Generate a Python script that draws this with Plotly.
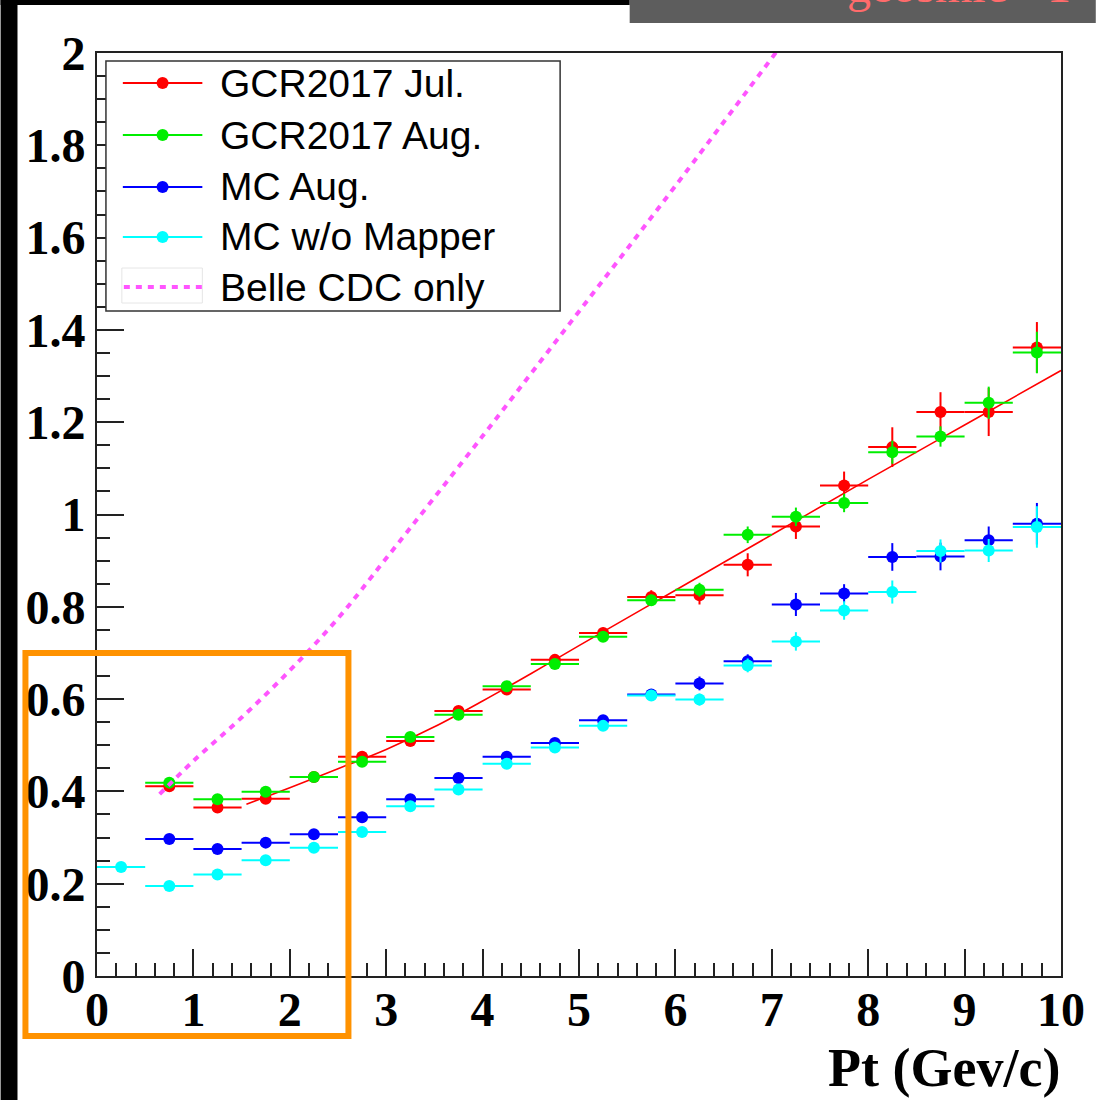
import plotly.graph_objects as go

# ---------------- data ----------------
bins_jul = [0.75, 1.25, 1.75, 2.25, 2.75, 3.25, 3.75, 4.25, 4.75, 5.25,
            5.75, 6.25, 6.75, 7.25, 7.75, 8.25, 8.75, 9.25, 9.75]
bins_cyan = [0.25] + bins_jul

gcr_jul = [0.411, 0.365, 0.384, 0.431, 0.475, 0.509, 0.574, 0.621, 0.685, 0.743,
           0.821, 0.825, 0.891, 0.974, 1.063, 1.146, 1.222, 1.222, 1.362]
gcr_jul_err = [0.005, 0.005, 0.006, 0.006, 0.008, 0.008, 0.010, 0.010, 0.010, 0.012,
               0.015, 0.020, 0.025, 0.027, 0.030, 0.043, 0.043, 0.052, 0.055]

gcr_aug = [0.419, 0.383, 0.399, 0.431, 0.464, 0.518, 0.566, 0.628, 0.676, 0.735,
           0.814, 0.837, 0.956, 0.995, 1.025, 1.135, 1.169, 1.242, 1.351]
gcr_aug_err = [0.005, 0.005, 0.006, 0.006, 0.007, 0.008, 0.009, 0.010, 0.010, 0.011,
               0.012, 0.015, 0.018, 0.020, 0.020, 0.025, 0.022, 0.035, 0.045]

mc_aug = [0.297, 0.275, 0.289, 0.307, 0.344, 0.383, 0.429, 0.475, 0.505, 0.554,
          0.610, 0.634, 0.682, 0.805, 0.829, 0.908, 0.909, 0.944, 0.980]
mc_aug_err = [0.004, 0.004, 0.005, 0.005, 0.006, 0.007, 0.008, 0.009, 0.010, 0.011,
              0.012, 0.015, 0.015, 0.025, 0.020, 0.030, 0.030, 0.030, 0.045]

mc_nomap = [0.236, 0.195, 0.220, 0.251, 0.278, 0.312, 0.368, 0.404, 0.460, 0.495,
            0.542, 0.608, 0.599, 0.673, 0.725, 0.792, 0.832, 0.921, 0.922, 0.973]
mc_nomap_err = [0.004, 0.004, 0.004, 0.005, 0.005, 0.006, 0.007, 0.008, 0.009, 0.010,
                0.011, 0.012, 0.013, 0.015, 0.020, 0.020, 0.025, 0.025, 0.025, 0.045]

fit_x = [1.55, 2.0, 2.5, 3.0, 3.5, 4.0, 4.5, 5.0, 6.0, 7.0, 8.0, 9.0, 10.0]
fit_y = [0.372, 0.408, 0.449, 0.491, 0.540, 0.596, 0.655, 0.716, 0.836, 0.956, 1.076, 1.194, 1.312]

belle_x = [0.65, 1.0, 1.5, 2.0, 2.5, 3.0, 4.0, 5.0, 6.0, 7.05]
belle_y = [0.394, 0.466, 0.560, 0.662, 0.775, 0.905, 1.170, 1.440, 1.712, 2.003]

x_ticks = list(range(0, 11))
y_ticks = [0, 0.2, 0.4, 0.6, 0.8, 1.0, 1.2, 1.4, 1.6, 1.8, 2.0]

legend_labels = ["GCR2017 Jul.", "GCR2017 Aug.", "MC Aug.", "MC w/o Mapper", "Belle CDC only"]
x_title = "Pt (Gev/c)"
banner_text = "geosmic - 1"

# ---------------- style ----------------
RED, GREEN, BLUE, CYAN, MAG = "#ff0000", "#00ee00", "#0000ff", "#00ffff", "#ff55ff"
W, H = 1097, 1100
ML, MR, MT, MB = 97, 30, 53, 124
PW, PH = W - ML - MR, H - MT - MB


def X(px):
    return (px - ML) / PW


def Y(py):
    return (H - MB - py) / PH


SERIF = "Liberation Serif, Times New Roman, serif"
SANS = "Liberation Sans, Arial, Helvetica, sans-serif"

fig = go.Figure()


def add_series(x, y, err, color):
    fig.add_trace(go.Scatter(
        x=x, y=y, mode="markers", showlegend=False,
        marker=dict(color=color, size=12, line=dict(width=0)),
        error_x=dict(type="constant", value=0.25, width=0, thickness=2, color=color),
        error_y=dict(type="data", array=err, width=0, thickness=2, color=color),
    ))


add_series(bins_jul, gcr_jul, gcr_jul_err, RED)
fig.add_trace(go.Scatter(x=fit_x, y=fit_y, mode="lines", showlegend=False,
                         line=dict(color=RED, width=1.6, shape="spline")))
add_series(bins_jul, gcr_aug, gcr_aug_err, GREEN)
add_series(bins_jul, mc_aug, mc_aug_err, BLUE)
add_series(bins_cyan, mc_nomap, mc_nomap_err, CYAN)
fig.add_trace(go.Scatter(x=belle_x, y=belle_y, mode="lines", showlegend=False,
                         line=dict(color=MAG, width=4, dash="6px,6px", shape="spline")))

shapes = []
annotations = []

# page decorations
shapes.append(dict(type="rect", xref="paper", yref="paper", x0=X(0), x1=X(17), y0=Y(H), y1=Y(0),
                   fillcolor="black", line=dict(width=0), layer="above"))
shapes.append(dict(type="rect", xref="paper", yref="paper", x0=X(0), x1=X(633), y0=Y(5), y1=Y(0),
                   fillcolor="black", line=dict(width=0), layer="above"))
shapes.append(dict(type="rect", xref="paper", yref="paper", x0=X(633), x1=X(W + 5), y0=Y(23), y1=Y(-5),
                   fillcolor="#5d5d5d", line=dict(width=0), layer="above"))
annotations.append(dict(text=banner_text, xref="paper", yref="paper", x=X(850), y=Y(14),
                        xanchor="left", yanchor="bottom", showarrow=False,
                        font=dict(family=SERIF, size=48, color="#ff6b6b")))

# legend box
shapes.append(dict(type="rect", xref="paper", yref="paper", x0=X(106), x1=X(563), y0=Y(311), y1=Y(61),
                   fillcolor="white", line=dict(color="#333333", width=1.5), layer="above"))
rows = [83, 135, 187, 237, 287]
colors = [RED, GREEN, BLUE, CYAN]
for i, lab in enumerate(legend_labels):
    ry = rows[i]
    if i < 4:
        shapes.append(dict(type="line", xref="paper", yref="paper", x0=X(123), x1=X(203), y0=Y(ry), y1=Y(ry),
                           line=dict(color=colors[i], width=2), layer="above"))
        shapes.append(dict(type="circle", xref="paper", yref="paper", xsizemode="pixel", ysizemode="pixel",
                           xanchor=X(163), yanchor=Y(ry), x0=-6, x1=6, y0=-6, y1=6,
                           fillcolor=colors[i], line=dict(width=0), layer="above"))
    else:
        shapes.append(dict(type="rect", xref="paper", yref="paper", x0=X(122), x1=X(203), y0=Y(303), y1=Y(268),
                           line=dict(color="#e6e6e6", width=1), layer="above"))
        shapes.append(dict(type="line", xref="paper", yref="paper", x0=X(124), x1=X(203), y0=Y(ry), y1=Y(ry),
                           line=dict(color=MAG, width=4, dash="6px,6px"), layer="above"))
    annotations.append(dict(text=lab, xref="paper", yref="paper", x=X(219), y=Y(ry),
                            xanchor="left", yanchor="middle", showarrow=False,
                            font=dict(family=SANS, size=39, color="black")))

# orange highlight box
shapes.append(dict(type="rect", xref="paper", yref="paper", x0=X(25), x1=X(350), y0=Y(1036), y1=Y(653),
                   line=dict(color="#ff9200", width=6), layer="above"))

# x title
annotations.append(dict(text=x_title, xref="paper", yref="paper", x=X(1068), y=Y(1068),
                        xanchor="right", yanchor="middle", showarrow=False,
                        font=dict(family=SERIF, size=54, color="black", weight="bold")))

axis_common = dict(
    ticks="inside", ticklen=27, tickwidth=1.5, tickcolor="#222222",
    showline=True, linecolor="#222222", linewidth=2, mirror=True,
    showgrid=False, zeroline=False,
    tickfont=dict(family=SERIF, size=48, color="black", weight="bold"),
)

fig.update_xaxes(range=[0, 10], tickvals=x_ticks, ticklabelstandoff=-10,
                 minor=dict(dtick=0.2, ticks="inside", ticklen=13, tickwidth=1.5, tickcolor="#222222", showgrid=False),
                 **axis_common)
fig.update_yaxes(range=[0, 2], tickvals=y_ticks,
                 minor=dict(dtick=0.05, ticks="inside", ticklen=13, tickwidth=1.5, tickcolor="#222222", showgrid=False),
                 **axis_common)

fig.update_layout(
    width=W, height=H,
    margin=dict(l=ML, r=MR, t=MT, b=MB, pad=0),
    paper_bgcolor="white", plot_bgcolor="white",
    showlegend=False,
    shapes=shapes, annotations=annotations,
)

fig.write_html("out.html")
